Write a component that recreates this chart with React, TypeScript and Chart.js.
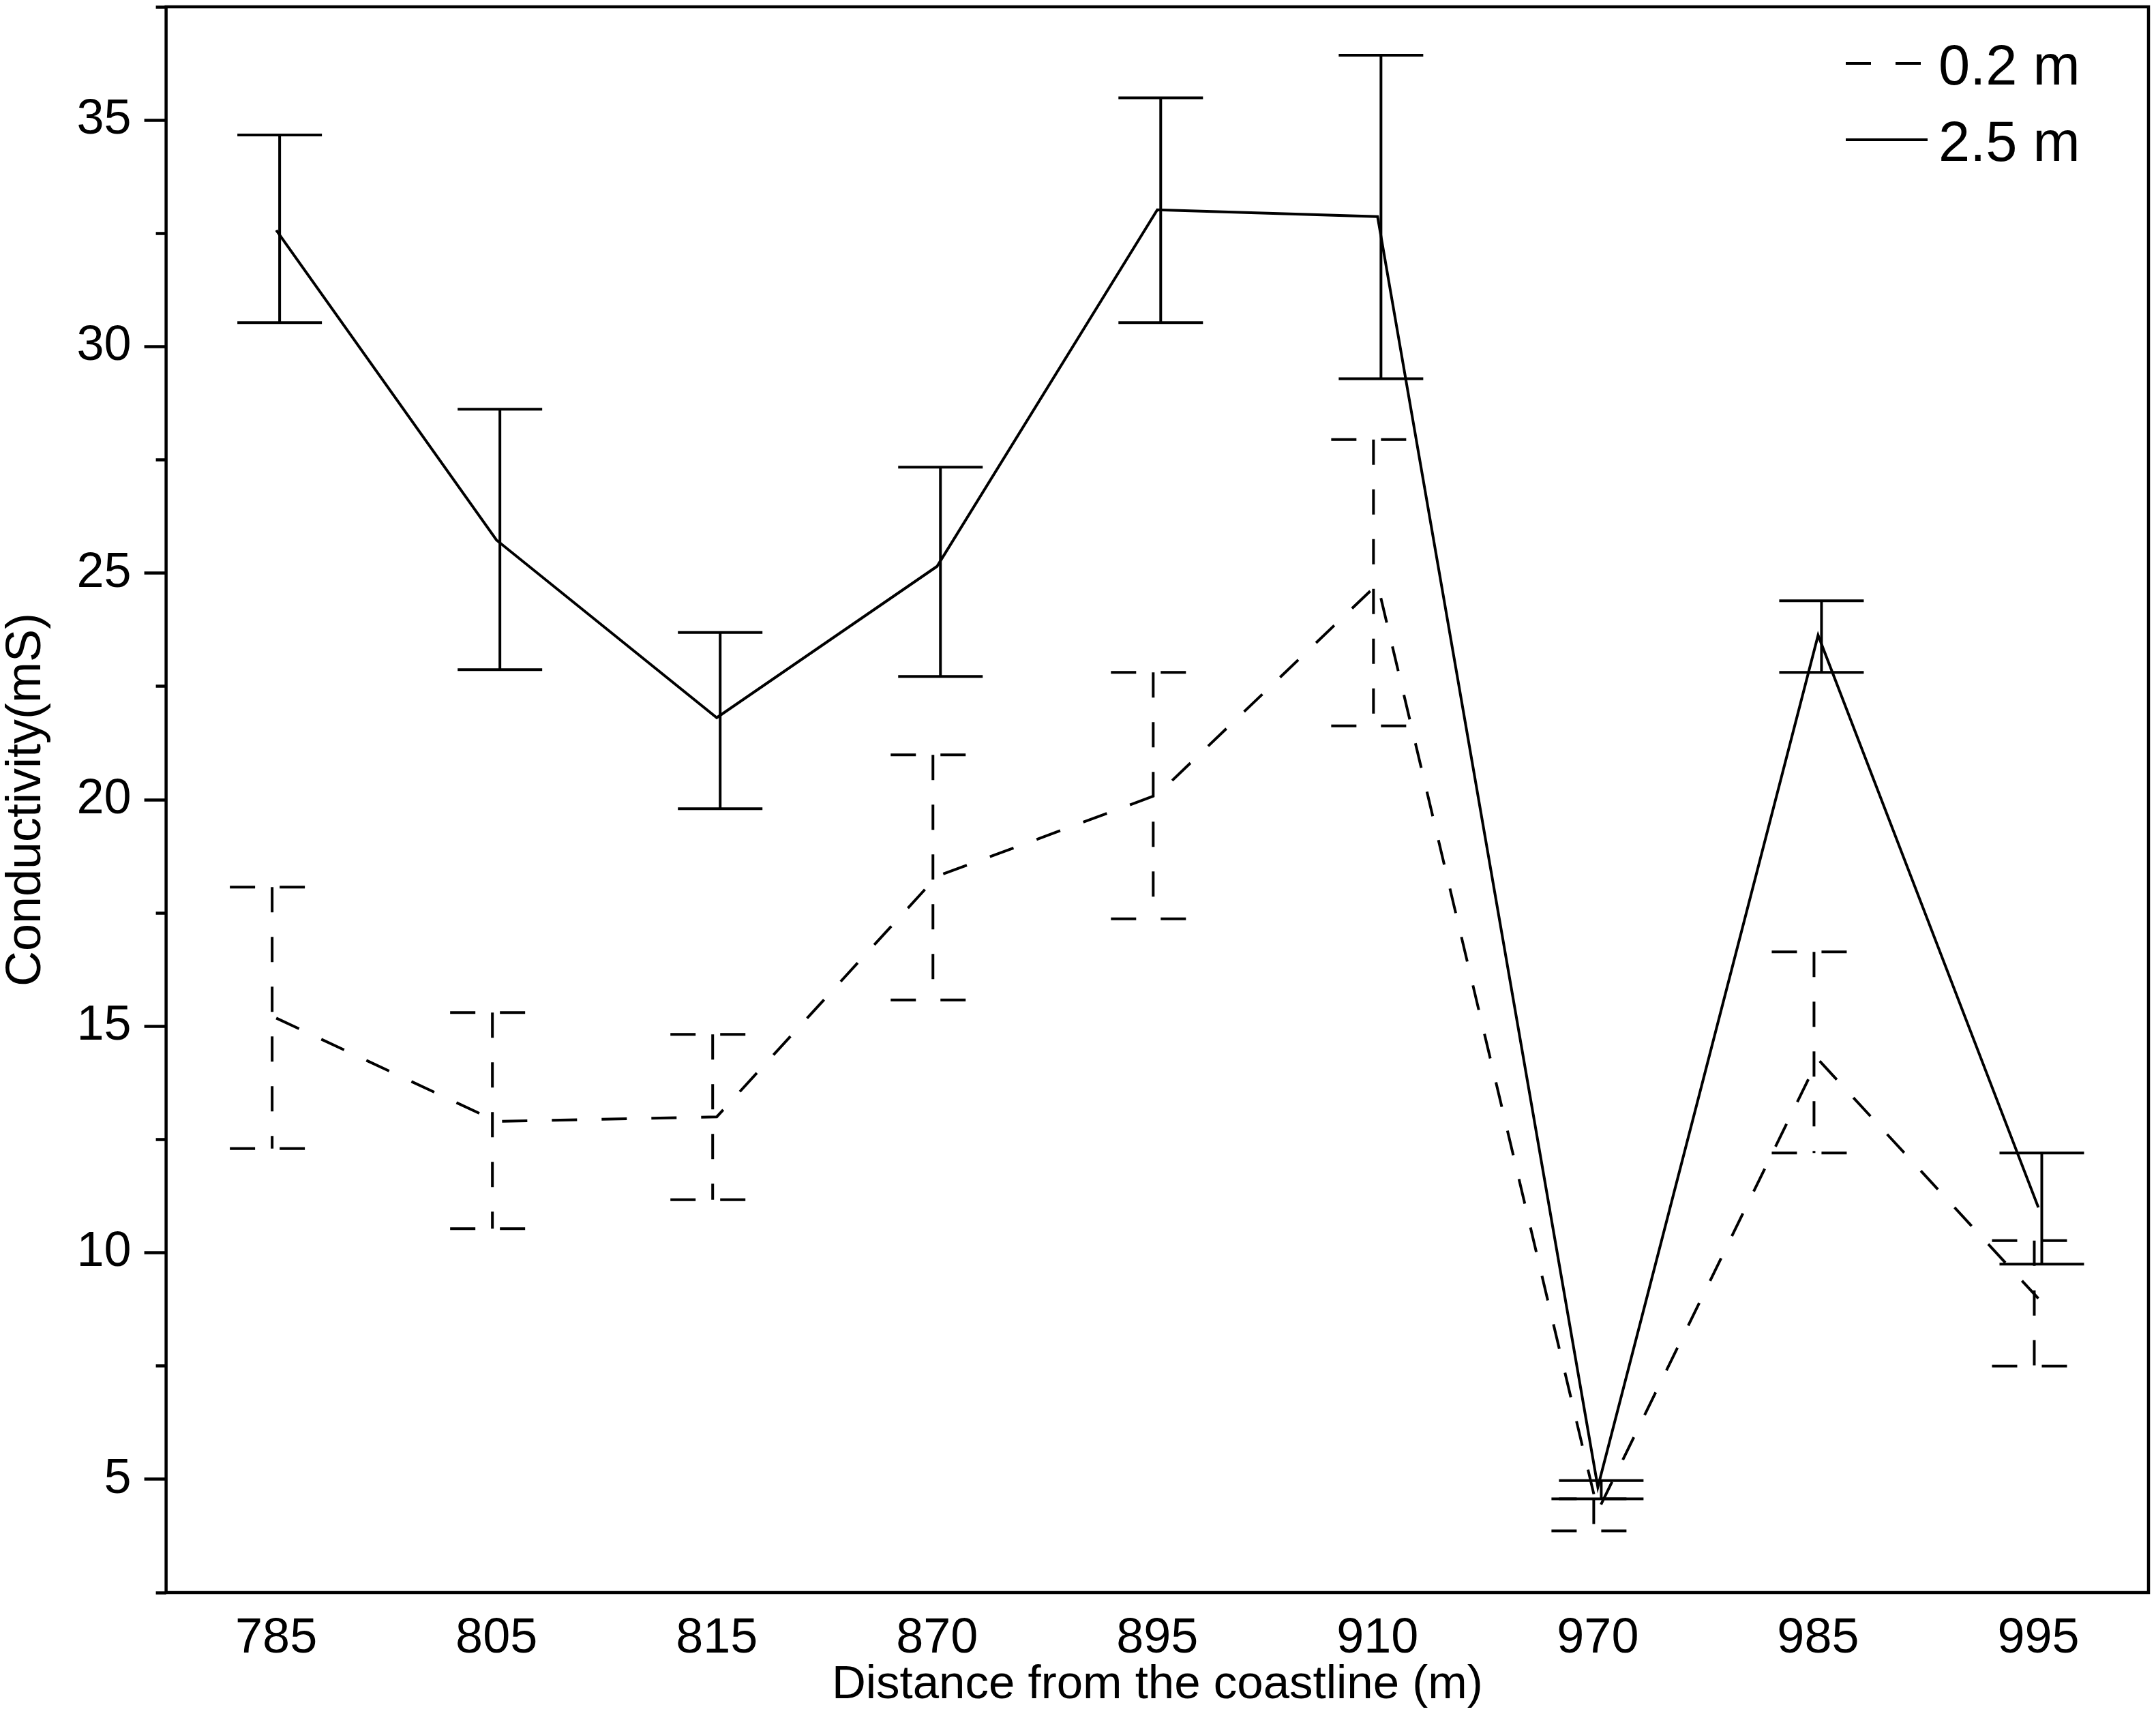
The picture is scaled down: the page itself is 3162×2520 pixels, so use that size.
import React, { useEffect, useRef } from 'react';
import { Chart, registerables } from 'chart.js';

Chart.register(...registerables);

const W = 3162;
const H = 2520;
const FONT = '"Liberation Sans", Arial, Helvetica, sans-serif';

// distance from the coastline (m)
const distances = ['785', '805', '815', '870', '895', '910', '970', '985', '995'];

// 0.2 m depth: mean and error bar ends
const shallowMean = [15.18, 12.9, 13.0, 18.31, 20.11, 24.76, 4.3, 14.27, 8.99];
const shallowHigh = [18.07, 15.3, 14.82, 20.99, 22.81, 27.95, 4.57, 16.64, 10.27];
const shallowLow = [12.3, 10.53, 11.17, 15.58, 17.37, 21.63, 3.86, 12.2, 7.5];

// 2.5 m depth
const deepMean = [32.57, 25.73, 21.81, 25.15, 33.02, 32.87, 4.83, 23.63, 11.0];
const deepHigh = [34.67, 28.62, 23.69, 27.34, 35.49, 36.43, 4.97, 24.39, 12.2];
const deepLow = [30.53, 22.87, 19.8, 22.72, 30.53, 29.29, 4.57, 22.81, 9.75];

const seriesNames = ['0.2 m', '2.5 m'];

// y axis range, ticks every 2.5, labels every 5
const yMin = 2.5;
const yMax = 37.5;
const yStep = 2.5;
const yLabelEvery = 5;

const DASH = [37, 36];
const CAP = 124;

const isMajor = (v: number) => Math.round(v * 100) % Math.round(yLabelEvery * 100) === 0;

// error bars drawn from the y scale
const errorBars = {
    id: 'errorBars',
    afterDatasetsDraw(chart: any) {
        const { ctx } = chart;
        const y = chart.scales.y;
        chart.data.datasets.forEach((ds: any, i: number) => {
            const meta = chart.getDatasetMeta(i);
            ctx.save();
            ctx.strokeStyle = '#000';
            ctx.lineWidth = 4;
            ctx.lineCap = 'butt';
            meta.data.forEach((pt: any, j: number) => {
                const x = pt.x + ds.barShift;
                const top = y.getPixelForValue(ds.high[j]);
                const bot = y.getPixelForValue(ds.low[j]);
                const segs = [
                    [x, top, x, bot],
                    [x - CAP / 2, top, x + CAP / 2, top],
                    [x - CAP / 2, bot, x + CAP / 2, bot],
                ];
                segs.forEach(s => {
                    ctx.setLineDash(ds.borderDash || []);
                    ctx.beginPath();
                    ctx.moveTo(s[0], s[1]);
                    ctx.lineTo(s[2], s[3]);
                    ctx.stroke();
                });
            });
            ctx.restore();
        });
    }
};

// box round the plot area
const frame = {
    id: 'frame',
    afterDraw(chart: any) {
        const { ctx, chartArea: a } = chart;
        ctx.save();
        ctx.strokeStyle = '#000';
        ctx.lineWidth = 4.5;
        ctx.setLineDash([]);
        ctx.strokeRect(a.left, a.top, a.right - a.left, a.bottom - a.top);
        ctx.restore();
    }
};

// legend in the top right corner
const cornerLegend = {
    id: 'cornerLegend',
    afterDraw(chart: any) {
        const { ctx, chartArea: a } = chart;
        ctx.save();
        ctx.fillStyle = '#000';
        ctx.strokeStyle = '#000';
        ctx.lineWidth = 4;
        ctx.font = `83px ${FONT}`;
        ctx.textBaseline = 'alphabetic';
        chart.data.datasets.forEach((ds: any, i: number) => {
            const base = a.top + 114 + i * 112;
            const lineY = base - 31;
            const x0 = a.right - 444;
            const dashed = ds.borderDash && ds.borderDash.length;
            ctx.setLineDash(ds.borderDash || []);
            ctx.beginPath();
            ctx.moveTo(x0, lineY);
            ctx.lineTo(x0 + (dashed ? 111 : 120), lineY);
            ctx.stroke();
            ctx.setLineDash([]);
            ctx.fillText(ds.label, a.right - 308, base);
        });
        ctx.restore();
    }
};

const App: React.FC = () => {
    const chartRef = useRef<HTMLCanvasElement>(null);

    useEffect(() => {
        if (!chartRef.current) return;

        const myChart = new Chart(chartRef.current, {
            type: 'line',
            data: {
                labels: distances,
                datasets: [
                    {
                        label: seriesNames[0],
                        data: shallowMean,
                        borderColor: '#000',
                        borderWidth: 4,
                        borderDash: DASH,
                        pointRadius: 0,
                        fill: false,
                        tension: 0,
                        high: shallowHigh,
                        low: shallowLow,
                        barShift: -6,
                    } as any,
                    {
                        label: seriesNames[1],
                        data: deepMean,
                        borderColor: '#000',
                        borderWidth: 4,
                        pointRadius: 0,
                        fill: false,
                        tension: 0,
                        high: deepHigh,
                        low: deepLow,
                        barShift: 5,
                    } as any,
                ]
            },
            options: {
                responsive: false,
                maintainAspectRatio: false,
                animation: false,
                devicePixelRatio: 1,
                layout: { padding: { top: 10, right: 11, bottom: 0, left: 0 } },
                plugins: {
                    legend: { display: false },
                    tooltip: { enabled: false },
                },
                scales: {
                    x: {
                        type: 'category',
                        offset: true,
                        grid: { display: false },
                        border: { display: false },
                        ticks: {
                            color: '#000',
                            padding: 24,
                            maxRotation: 0,
                            autoSkip: false,
                            font: { family: FONT, size: 72, lineHeight: 1 },
                        },
                        title: {
                            display: true,
                            text: 'Distance from the coastline (m)',
                            color: '#000',
                            font: { family: FONT, size: 69, lineHeight: 1 },
                            padding: { top: -18, bottom: 14 },
                        },
                        afterFit: (s: any) => {
                            s.height = 184;
                            s.paddingLeft = 0;
                            s.paddingRight = 0;
                        },
                    },
                    y: {
                        min: yMin,
                        max: yMax,
                        grid: {
                            drawOnChartArea: false,
                            drawTicks: true,
                            tickLength: 32,
                            tickWidth: 4.5,
                            color: '#000',
                            tickColor: '#000',
                            tickBorderDash: (c: any) =>
                                c.tick && isMajor(c.tick.value) ? [] : [0, 17, 15, 0],
                        },
                        border: { display: false },
                        ticks: {
                            stepSize: yStep,
                            color: '#000',
                            padding: 19,
                            font: { family: FONT, size: 72 },
                            callback: (v: any) => (isMajor(Number(v)) ? String(v) : ''),
                        },
                        title: {
                            display: true,
                            text: 'Conductivity(mS)',
                            color: '#000',
                            font: { family: FONT, size: 72, lineHeight: 1 },
                            padding: { top: 3, bottom: 0 },
                        },
                        afterFit: (s: any) => {
                            s.width = 243.6;
                            s.paddingTop = 0;
                            s.paddingBottom = 0;
                        },
                    },
                }
            },
            plugins: [errorBars, frame, cornerLegend]
        });

        return () => {
            myChart.destroy(); // Clean up
        };
    }, []);

    return (
        <div style={{ position: 'absolute', left: 0, top: 0, width: W, height: H, background: '#fff' }}>
            <canvas ref={chartRef} width={W} height={H} style={{ display: 'block', width: W, height: H }} />
        </div>
    );
};

export default App;
